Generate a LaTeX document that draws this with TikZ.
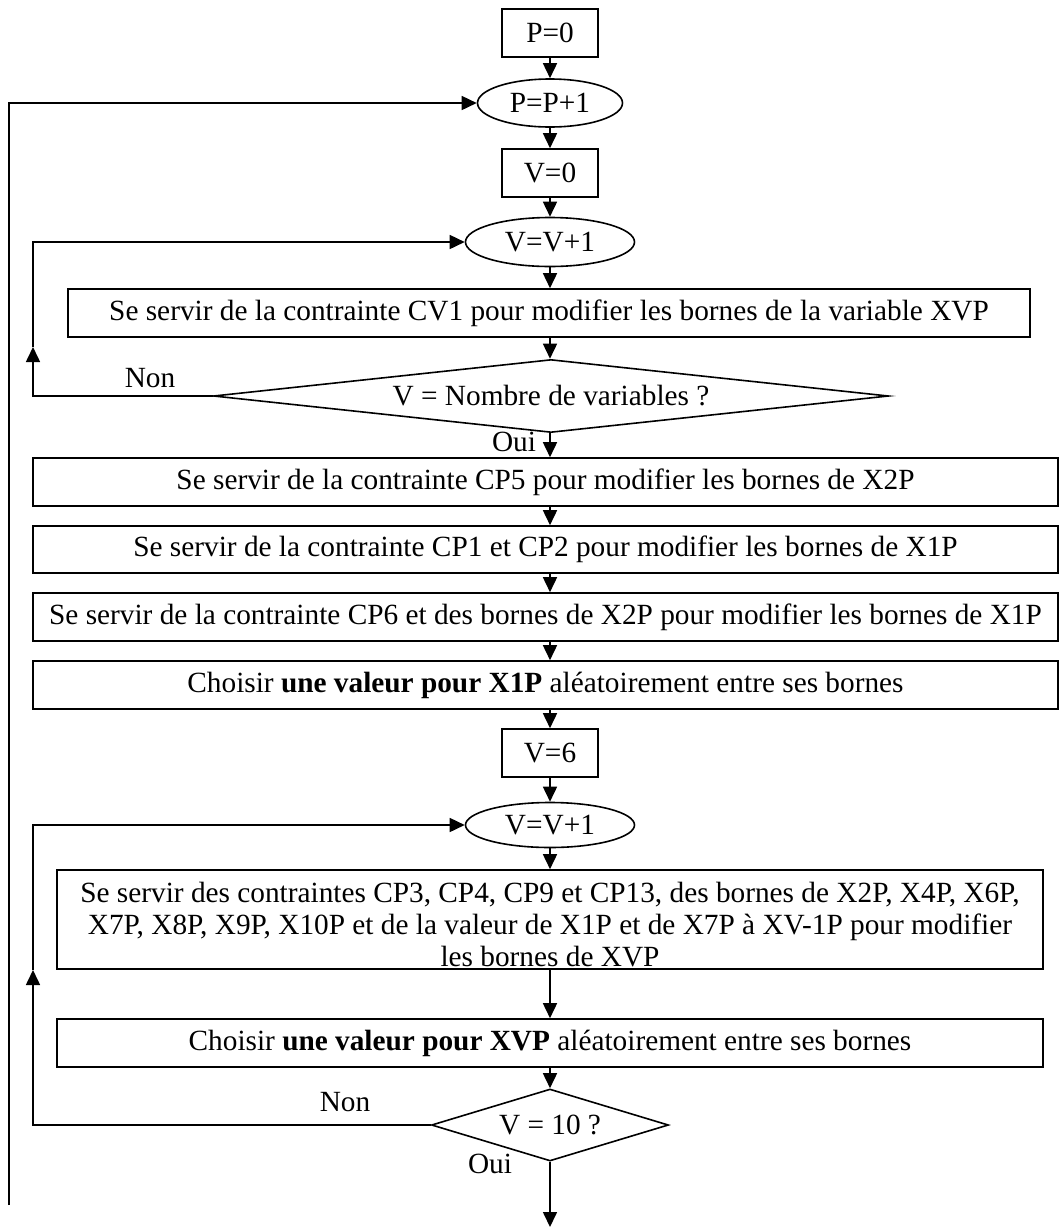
\documentclass[tikz,border=0pt]{standalone}
\usepackage{fontspec}
\setmainfont{Liberation Serif}
\usetikzlibrary{arrows.meta, shapes.geometric, calc}

\tikzset{
  procBox/.style={draw, line width=1.6pt, rectangle, inner sep=0pt, minimum height=48pt},
  loopEll/.style={draw, line width=1.6pt, ellipse, inner sep=0pt},
  testDiam/.style={draw, line width=1.6pt, diamond, inner sep=0pt},
  flowArr/.style={line width=1.6pt, -{Triangle[length=15pt,width=14pt]}},
  tagText/.style={inner sep=0pt}
}

\begin{document}
\begin{tikzpicture}[x=1pt, y=-1pt, font=\fontsize{29.3}{32}\selectfont]
  \useasboundingbox (0,0) rectangle (1060,1227);
  \coordinate (axis) at (550,0);
  % outer loop on P
  \node[procBox, minimum width=96pt] (pZero) at (550,33) {P=0};
  \node[loopEll, minimum width=145pt, minimum height=48pt] (pInc) at (550,103) {P=P+1};
  \node[procBox, minimum width=96pt] (vZero) at (550,173) {V=0};
  % first loop on V
  \node[loopEll, minimum width=169pt, minimum height=49pt] (vIncA) at (550,242) {V=V+1};
  \node[procBox, minimum width=962pt] (boundsCV) at (549,313)
    {Se servir de la contrainte CV1 pour modifier les bornes de la variable XVP};
  \node[testDiam, minimum width=675pt, minimum height=73pt, aspect=9.2] (decA) at (551,396)
    {V = Nombre de variables ?};
  \node[tagText] (nonA) at (150,378) {Non};
  \node[tagText] (ouiA) at (514,442) {Oui};
  % bounds of X2P and X1P
  \node[procBox, minimum width=1025pt] (boundsCPf) at (545.5,482)
    {Se servir de la contrainte CP5 pour modifier les bornes de X2P};
  \node[procBox, minimum width=1025pt, minimum height=47pt] (boundsCPa) at (545.5,549.5)
    {Se servir de la contrainte CP1 et CP2 pour modifier les bornes de X1P};
  \node[procBox, minimum width=1025pt] (boundsCPs) at (545.5,617)
    {Se servir de la contrainte CP6 et des bornes de X2P pour modifier les bornes de X1P};
  \node[procBox, minimum width=1025pt] (pickXa) at (545.5,685)
    {Choisir \textbf{une valeur pour X1P} aléatoirement entre ses bornes};
  \node[procBox, minimum width=96pt] (vSix) at (550,753) {V=6};
  % second loop on V
  \node[loopEll, minimum width=169pt, minimum height=45pt] (vIncB) at (550,825) {V=V+1};
  \node[procBox, minimum width=986pt, minimum height=99pt, align=center,
        text height=96pt, text depth=3pt] (boundsXV) at (550,919.5)
    {Se servir des contraintes CP3, CP4, CP9 et CP13, des bornes de X2P, X4P, X6P,\\
     X7P, X8P, X9P, X10P et de la valeur de X1P et de X7P à XV-1P pour modifier\\
     les bornes de XVP};
  \node[procBox, minimum width=986pt] (pickXV) at (550,1043)
    {Choisir \textbf{une valeur pour XVP} aléatoirement entre ses bornes};
  \node[testDiam, minimum width=237pt, minimum height=72pt, aspect=3.3] (decB) at (550,1125)
    {V = 10 ?};
  \node[tagText] (nonB) at (345,1102) {Non};
  \node[tagText] (ouiB) at (490,1164) {Oui};
  % main flow
  \draw[flowArr] (pZero.south -| axis) -- (pInc.north -| axis);
  \draw[flowArr] (pInc.south -| axis) -- (vZero.north -| axis);
  \draw[flowArr] (vZero.south -| axis) -- (vIncA.north -| axis);
  \draw[flowArr] (vIncA.south -| axis) -- (boundsCV.north -| axis);
  \draw[flowArr] (boundsCV.south -| axis) -- (decA.north -| axis);
  \draw[flowArr] (decA.south -| axis) -- (boundsCPf.north -| axis);
  \draw[flowArr] (boundsCPf.south -| axis) -- (boundsCPa.north -| axis);
  \draw[flowArr] (boundsCPa.south -| axis) -- (boundsCPs.north -| axis);
  \draw[flowArr] (boundsCPs.south -| axis) -- (pickXa.north -| axis);
  \draw[flowArr] (pickXa.south -| axis) -- (vSix.north -| axis);
  \draw[flowArr] (vSix.south -| axis) -- (vIncB.north -| axis);
  \draw[flowArr] (vIncB.south -| axis) -- (boundsXV.north -| axis);
  \draw[flowArr] (boundsXV.south -| axis) -- (pickXV.north -| axis);
  \draw[flowArr] (pickXV.south -| axis) -- (decB.north -| axis);
  \coordinate (flowEnd) at (550,1227);
  \draw[flowArr] (decB.south) -- (flowEnd);
  % back edges
  \coordinate (outerEnd) at (9,1205);
  \draw[flowArr] (outerEnd) |- (pInc.west);
  \coordinate (loopA) at (33,347);
  \draw[flowArr] (decA.west) -| (loopA);
  \draw[flowArr] (loopA) |- (vIncA.west);
  \coordinate (loopB) at (33,970);
  \draw[flowArr] (decB.west) -| (loopB);
  \draw[flowArr] (loopB) |- (vIncB.west);
\end{tikzpicture}
\end{document}
